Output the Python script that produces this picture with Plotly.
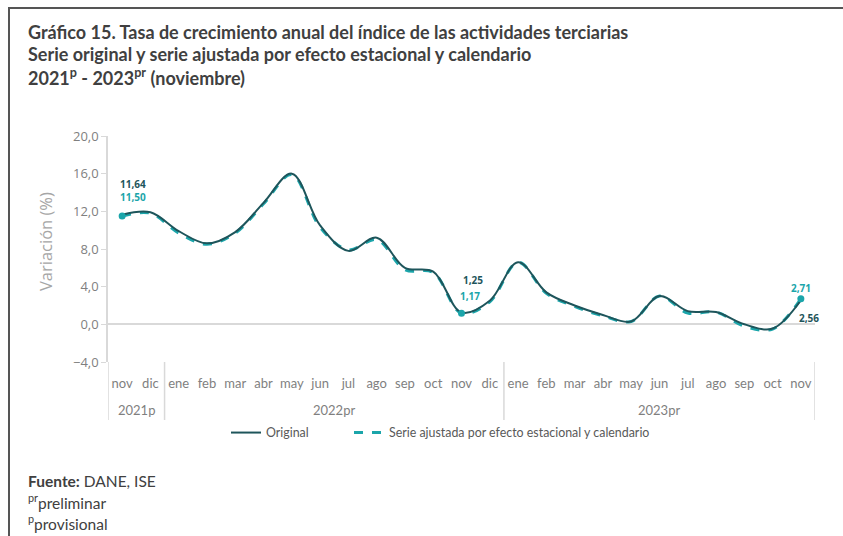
import plotly.graph_objects as go

# Data (variación anual, %)
months = ["nov", "dic",
          "ene", "feb", "mar", "abr", "may", "jun", "jul", "ago", "sep", "oct", "nov", "dic",
          "ene", "feb", "mar", "abr", "may", "jun", "jul", "ago", "sep", "oct", "nov"]
years = ["2021p"] * 2 + ["2022pr"] * 12 + ["2023pr"] * 11

original = [11.64, 11.9, 9.9, 8.6, 9.8, 12.9, 16.0, 10.5, 7.8, 9.2, 6.0, 5.6, 1.25,
            2.5, 6.6, 3.4, 2.0, 1.0, 0.3, 3.0, 1.4, 1.3, 0.0, -0.45, 2.56]
ajustada = [11.50, 11.8, 9.7, 8.5, 9.7, 12.8, 15.9, 10.3, 7.9, 9.0, 5.8, 5.5, 1.17,
            2.4, 6.6, 3.3, 1.9, 0.9, 0.3, 3.0, 1.2, 1.3, -0.2, -0.5, 2.71]

# labelled points (nov of each year)
label_idx = [0, 12, 24]

C_ORIG = "#1E555B"
C_ADJ = "#1BA5AA"
GRID = "#D9D9D9"
TEXT = "#404040"
AXIS_TXT = "#7F7F7F"

# plot area in pixels
L, R, T, B = 108, 815, 136, 362


def px(x):
    return (x - L) / (R - L)


def py(y):
    return (B - y) / (B - T)


xs = list(range(len(months)))

fig = go.Figure()

fig.add_trace(go.Scatter(
    x=xs, y=ajustada, name="Serie ajustada por efecto estacional y calendario",
    mode="lines", line=dict(color=C_ADJ, width=3, dash="dash", shape="spline"),
    legend="legend2",
))
fig.add_trace(go.Scatter(
    x=xs, y=original, name="Original",
    mode="lines", line=dict(color=C_ORIG, width=2, shape="spline"),
    legend="legend",
))
fig.add_trace(go.Scatter(
    x=label_idx, y=[ajustada[i] for i in label_idx],
    mode="markers", marker=dict(color=C_ADJ, size=7), showlegend=False,
))

annotations = []
# (index, series, color, xshift, yshift)
label_specs = [
    (0, original, C_ORIG, 11, 31), (0, ajustada, C_ADJ, 11, 19),
    (12, original, C_ORIG, 11, 33), (12, ajustada, C_ADJ, 8, 17),
    (24, ajustada, C_ADJ, 0, 11), (24, original, C_ORIG, 8, -18),
]
for i, series, color, xsft, ysft in label_specs:
    annotations.append(dict(
        x=i, y=series[i], xref="x", yref="y", showarrow=False,
        text="<b>" + f"{series[i]:.2f}".replace(".", ",") + "</b>",
        font=dict(size=10, color=color, family="Open Sans"),
        xshift=xsft, yshift=ysft,
    ))

# year groups: label at centre, dividers at the edges
groups = []
for i, yr in enumerate(years):
    if not groups or groups[-1][0] != yr:
        groups.append([yr, i, i])
    else:
        groups[-1][2] = i

shapes = []
for yr, first, last in groups:
    annotations.append(dict(
        x=(first + last) / 2, y=py(410), xref="x", yref="paper", showarrow=False,
        text=yr, font=dict(size=13, color=AXIS_TXT, family="Lato"), yanchor="middle",
    ))
    shapes.append(dict(type="line", xref="x", yref="paper", x0=first - 0.5, x1=first - 0.5,
                       y0=py(362), y1=py(420), line=dict(color=GRID, width=1.5)))
shapes.append(dict(type="line", xref="x", yref="paper", x0=len(months) - 0.5, x1=len(months) - 0.5,
                   y0=py(362), y1=py(420), line=dict(color=GRID, width=1.5)))

# titles
title_lines = [
    "Gráfico 15. Tasa de crecimiento anual del índice de las actividades terciarias",
    "Serie original y serie ajustada por efecto estacional y calendario",
    "2021<sup>p</sup> - 2023<sup>pr</sup> (noviembre)",
]
for k, line in enumerate(title_lines):
    annotations.append(dict(
        x=px(26), y=py(32 + k * 22.5), xref="paper", yref="paper", xanchor="left", yanchor="middle",
        text="<b>" + line + "</b>", showarrow=False,
        font=dict(size=18, color=TEXT, family="Lato"),
    ))

footer = [
    "<b>Fuente:</b> DANE, ISE",
    "<sup>pr</sup>preliminar",
    "<sup>p</sup>provisional",
]
for k, line in enumerate(footer):
    annotations.append(dict(
        x=px(26), y=py(481 + k * 20.5), xref="paper", yref="paper", xanchor="left", yanchor="middle",
        text=line, showarrow=False,
        font=dict(size=15.5, color=TEXT, family="Lato"),
    ))

annotations.append(dict(
    x=px(45), y=py(242), xref="paper", yref="paper", xanchor="center", yanchor="middle",
    text="Variación (%)", textangle=-90, showarrow=False,
    font=dict(size=16.5, color="#A6A6A6", family="Open Sans"),
))

# page frame (top and left edges visible)
shapes.append(dict(type="rect", xref="paper", yref="paper", layer="above",
                   x0=px(9), x1=px(850), y0=py(8), y1=py(545),
                   line=dict(color="#555555", width=2), fillcolor="rgba(0,0,0,0)"))

legend_style = dict(orientation="h", yanchor="middle", y=py(433), xanchor="left",
                    font=dict(size=12.4, color="#595959", family="Lato"), bgcolor="rgba(0,0,0,0)")

fig.update_layout(
    width=843, height=536,
    paper_bgcolor="white", plot_bgcolor="white",
    margin=dict(l=L, r=843 - R, t=T, b=536 - B),
    separators=",.",
    font=dict(family="Open Sans", color=AXIS_TXT, size=12),
    showlegend=True,
    legend=dict(x=px(226), **legend_style),
    legend2=dict(x=px(349), **legend_style),
    xaxis=dict(
        range=[-0.5, len(months) - 0.5], tickvals=xs, ticktext=months, tickangle=0,
        showgrid=False, showline=False, zeroline=False,
        ticks="", ticklabelstandoff=12,
        tickfont=dict(size=13, color=AXIS_TXT, family="Lato"),
    ),
    yaxis=dict(
        range=[-4, 20], tickvals=[-4, 0, 4, 8, 12, 16, 20], tickformat=".1f",
        showgrid=False, showline=True, linecolor=GRID, linewidth=1.5,
        ticks="outside", ticklen=5, tickcolor=GRID,
        zeroline=True, zerolinecolor=GRID, zerolinewidth=1.5,
        tickfont=dict(size=13, color=AXIS_TXT, family="Open Sans"),
    ),
    annotations=annotations, shapes=shapes,
)

fig.write_html("out.html", config={"displayModeBar": False},
               post_script="document.body.style.margin='0';document.body.style.padding='0';")
